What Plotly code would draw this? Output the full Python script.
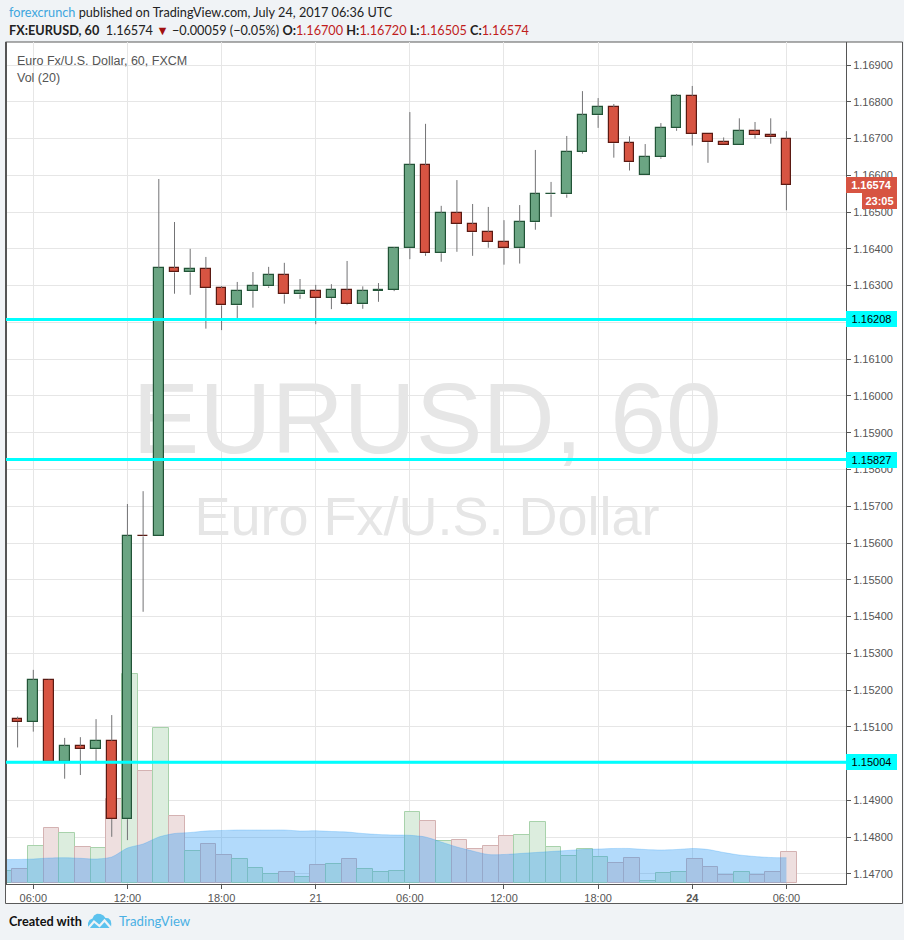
import plotly.graph_objects as go

# ---------------- data ----------------
times = [
    "2017-07-20 04:00", "2017-07-20 05:00", "2017-07-20 06:00", "2017-07-20 07:00", "2017-07-20 08:00",
    "2017-07-20 09:00", "2017-07-20 10:00", "2017-07-20 11:00", "2017-07-20 12:00", "2017-07-20 13:00",
    "2017-07-20 14:00", "2017-07-20 15:00", "2017-07-20 16:00", "2017-07-20 17:00", "2017-07-20 18:00",
    "2017-07-20 19:00", "2017-07-20 20:00", "2017-07-20 21:00", "2017-07-20 22:00", "2017-07-20 23:00",
    "2017-07-21 00:00", "2017-07-21 01:00", "2017-07-21 02:00", "2017-07-21 03:00", "2017-07-21 04:00",
    "2017-07-21 05:00", "2017-07-21 06:00", "2017-07-21 07:00", "2017-07-21 08:00", "2017-07-21 09:00",
    "2017-07-21 10:00", "2017-07-21 11:00", "2017-07-21 12:00", "2017-07-21 13:00", "2017-07-21 14:00",
    "2017-07-21 15:00", "2017-07-21 16:00", "2017-07-21 17:00", "2017-07-21 18:00", "2017-07-21 19:00",
    "2017-07-21 20:00", "2017-07-23 21:00", "2017-07-23 22:00", "2017-07-23 23:00", "2017-07-24 00:00",
    "2017-07-24 01:00", "2017-07-24 02:00", "2017-07-24 03:00", "2017-07-24 04:00", "2017-07-24 05:00",
    "2017-07-24 06:00",
]
opens = [1.15098, 1.15121, 1.15113, 1.15227, 1.15005, 1.15047, 1.15039, 1.15062, 1.14849, 1.15620,
         1.15618, 1.16347, 1.16336, 1.16344, 1.16293, 1.16246, 1.16285, 1.16298, 1.16328, 1.16276,
         1.16285, 1.16266, 1.16287, 1.16249, 1.16285, 1.16288, 1.16401, 1.16627, 1.16388, 1.16497,
         1.16467, 1.16445, 1.16418, 1.16401, 1.16472, 1.16548, 1.16548, 1.16663, 1.16763, 1.16785,
         1.16687, 1.16600, 1.16649, 1.16728, 1.16815, 1.16712, 1.16690, 1.16682, 1.16720, 1.16709,
         1.16700]
highs = [1.15135, 1.15128, 1.15255, 1.15229, 1.15070, 1.15072, 1.15121, 1.15132, 1.15706, 1.15741,
         1.16590, 1.16473, 1.16400, 1.16378, 1.16299, 1.16310, 1.16337, 1.16351, 1.16362, 1.16318,
         1.16302, 1.16304, 1.16367, 1.16298, 1.16307, 1.16405, 1.16772, 1.16740, 1.16517, 1.16587,
         1.16522, 1.16514, 1.16478, 1.16519, 1.16669, 1.16582, 1.16707, 1.16829, 1.16810, 1.16794,
         1.16706, 1.16685, 1.16742, 1.16821, 1.16843, 1.16712, 1.16703, 1.16755, 1.16745, 1.16755,
         1.16720]
lows = [1.15080, 1.15044, 1.15087, 1.15002, 1.14959, 1.14969, 1.15007, 1.14801, 1.14792, 1.15413,
        1.15618, 1.16278, 1.16275, 1.16183, 1.16179, 1.16212, 1.16240, 1.16294, 1.16251, 1.16264,
        1.16195, 1.16236, 1.16247, 1.16237, 1.16256, 1.16285, 1.16372, 1.16381, 1.16365, 1.16392,
        1.16381, 1.16403, 1.16357, 1.16360, 1.16452, 1.16487, 1.16539, 1.16659, 1.16729, 1.16648,
        1.16613, 1.16600, 1.16645, 1.16721, 1.16681, 1.16634, 1.16682, 1.16682, 1.16700, 1.16686,
        1.16505]
closes = [1.15121, 1.15113, 1.15227, 1.15005, 1.15047, 1.15039, 1.15062, 1.14849, 1.15618, 1.15618,
          1.16347, 1.16336, 1.16344, 1.16293, 1.16246, 1.16285, 1.16298, 1.16328, 1.16276, 1.16285,
          1.16266, 1.16287, 1.16249, 1.16285, 1.16288, 1.16401, 1.16627, 1.16388, 1.16497, 1.16467,
          1.16445, 1.16418, 1.16401, 1.16472, 1.16548, 1.16550, 1.16663, 1.16763, 1.16785, 1.16687,
          1.16635, 1.16649, 1.16728, 1.16815, 1.16712, 1.16690, 1.16682, 1.16720, 1.16709, 1.16703,
          1.16574]
volumes = [585, 670, 1835, 2720, 2470, 1770, 1720, 4185, 10435, 5585,
           7720, 3335, 1585, 1935, 1385, 1170, 720, 435, 535, 285,
           870, 920, 1170, 670, 520, 570, 3520, 3070, 2070, 2120,
           1670, 1820, 2320, 2370, 3020, 1770, 1320, 1670, 1270, 970,
           1220, 70, 470, 520, 1170, 770, 385, 520, 385, 520,
           1520]
vol_ma20 = [1160, 1160, 1185, 1235, 1250, 1220, 1185, 1285, 1735, 1935,
            2285, 2460, 2510, 2585, 2610, 2635, 2635, 2635, 2635, 2585,
            2600, 2560, 2535, 2460, 2410, 2385, 2370, 2285, 2035, 1785,
            1585, 1410, 1410, 1460, 1510, 1560, 1610, 1660, 1685, 1710,
            1710, 1660, 1635, 1660, 1710, 1660, 1510, 1385, 1310, 1260,
            1250]
levels = [1.16208, 1.15827, 1.15004]
level_labels = ["1.16208", "1.15827", "1.15004"]
last_price_label = "1.16574"
countdown_label = "23:05"
tick_times = ["2017-07-20 06:00", "2017-07-20 12:00", "2017-07-20 18:00", "2017-07-21 00:00",
              "2017-07-21 06:00", "2017-07-21 12:00", "2017-07-21 18:00", "2017-07-24 00:00",
              "2017-07-24 06:00"]
tick_labels = ["06:00", "12:00", "18:00", "21", "06:00", "12:00", "18:00", "<b>24</b>", "06:00"]

# ---------------- styling ----------------
UP_FILL, UP_LINE = "#6ba583", "#225437"
DN_FILL, DN_LINE = "#d75442", "#5b1a13"
WICK = "#737375"
VOL_UP_FILL, VOL_UP_LINE = "#dcedde", "#a8d2ab"
VOL_DN_FILL, VOL_DN_LINE = "#eedfdf", "#d4b2b2"
MA_FILL = "rgba(33,150,243,0.35)"
GRID = "#e6e6e6"
AXIS = "#555555"
BG = "#f0f3f6"
NARROW = "Lato, Liberation Sans, Arial, sans-serif"
SANS = "Liberation Sans, Arial, sans-serif"
HDR = 12.7

W, H = 904, 940
PL, PT, PW, PH = 6, 42, 840, 842
VOL_RANGE = [-65, 42035]


def px(X):
    return (X - PL) / PW


def py(Y):
    return (PT + PH - Y) / PH


def vol_at(Y):
    # pixel row -> volume-axis value
    return VOL_RANGE[0] + (PT + PH - Y) / PH * (VOL_RANGE[1] - VOL_RANGE[0])


xpos = list(range(len(times)))
is_up = [c >= o for o, c in zip(opens, closes)]

fig = go.Figure()

# volume bars (lower subplot layer, yaxis y)
fig.add_trace(go.Bar(
    x=xpos, y=volumes, width=1.0, offset=-0.34,
    marker=dict(color=[VOL_UP_FILL if u else VOL_DN_FILL for u in is_up],
                line=dict(color=[VOL_UP_LINE if u else VOL_DN_LINE for u in is_up], width=1)),
    yaxis="y", hoverinfo="skip"))
# volume moving average area
fig.add_trace(go.Scatter(
    x=xpos, y=vol_ma20, mode="lines", fill="tozeroy", fillcolor=MA_FILL,
    line=dict(color="rgba(33,150,243,0.25)", width=1, shape="spline", smoothing=0.8),
    yaxis="y", hoverinfo="skip"))

# watermark text (lower subplot so candles are drawn above it)
mid_x = (427 - 1.91) / 15.69
fig.add_trace(go.Scatter(
    x=[mid_x, mid_x], y=[vol_at(428), vol_at(521)],
    mode="text", text=["EURUSD, 60", "Euro Fx/U.S. Dollar"],
    textfont=dict(family=SANS, size=[100, 54], color="#e6e6e6"),
    textposition="middle center", yaxis="y", hoverinfo="skip", cliponaxis=False))

# bodies
fig.add_trace(go.Bar(
    x=xpos, y=[abs(c - o) for o, c in zip(opens, closes)],
    base=[min(o, c) for o, c in zip(opens, closes)],
    width=0.62, offset=-0.31,
    marker=dict(color=[UP_FILL if u else DN_FILL for u in is_up],
                line=dict(color=[UP_LINE if u else DN_LINE for u in is_up], width=1.2)),
    yaxis="y2", hoverinfo="skip"))

# wicks (upper and lower shadows, not crossing the bodies)
wx, wy = [], []
for i, (o, hi, lo, c) in enumerate(zip(opens, highs, lows, closes)):
    top, bot = max(o, c), min(o, c)
    if hi > top:
        wx += [i, i, None]
        wy += [top, hi, None]
    if lo < bot:
        wx += [i, i, None]
        wy += [lo, bot, None]
fig.add_trace(go.Scatter(x=wx, y=wy, mode="lines", line=dict(color=WICK, width=1),
                         yaxis="y2", hoverinfo="skip"))

tickvals = [times.index(t) for t in tick_times]

shapes = [
    dict(type="rect", xref="paper", yref="paper", x0=px(5.5), x1=px(902.5), y0=py(903.5), y1=py(42),
         fillcolor="white", line=dict(color="#5a5a5a", width=1), layer="below"),
    dict(type="line", xref="paper", yref="paper", x0=px(6), x1=px(6), y0=py(42), y1=py(884),
         line=dict(color="#555555", width=2)),
]
for lv in levels:
    shapes.append(dict(type="line", xref="paper", yref="y2", x0=0, x1=1, y0=lv, y1=lv,
                       line=dict(color="#00ffff", width=3)))

annotations = []
for lv, lab in zip(levels, level_labels):
    annotations.append(dict(xref="paper", yref="y2", x=1, y=lv, xanchor="left", yanchor="middle",
                            text=lab, showarrow=False, bgcolor="#00ffff", width=47, height=12,
                            borderpad=2, borderwidth=0, align="center",
                            font=dict(family=SANS, size=11, color="#000000")))
annotations.append(dict(xref="paper", yref="y2", x=1, y=closes[-1], xanchor="left", yanchor="middle",
                        text="<b>%s</b>" % last_price_label, showarrow=False, bgcolor=DN_FILL,
                        width=47, height=12, borderpad=2, borderwidth=0, align="center",
                        font=dict(family=SANS, size=11, color="white")))
annotations.append(dict(xref="paper", yref="y2", x=px(897), y=closes[-1], xanchor="right",
                        yanchor="middle", yshift=-16.5,
                        text="<b>%s</b>" % countdown_label, showarrow=False, bgcolor=DN_FILL,
                        width=31, height=12, borderpad=2, borderwidth=0, align="center",
                        font=dict(family=SANS, size=11, color="white")))

# header
annotations.append(dict(xref="paper", yref="paper", x=px(7), y=py(12), xanchor="left", yanchor="middle",
                        showarrow=False, align="left",
                        text='<span style="color:#3ea6de">forexcrunch</span> published on TradingView.com, '
                             'July 24, 2017 06:36 UTC',
                        font=dict(family=NARROW, size=HDR, color="#222222")))
RED = "#c01d1d"
line2 = ('<b>FX:EURUSD, 60</b>\u00a0\u00a01.16574 <span style="color:#a11010">\u25bc</span> '
         '\u22120.00059 (\u22120.05%) '
         '<b>O:</b><span style="color:{r}">1.16700</span> '
         '<b>H:</b><span style="color:{r}">1.16720</span> '
         '<b>L:</b><span style="color:{r}">1.16505</span> '
         '<b>C:</b><span style="color:{r}">1.16574</span>').format(r=RED)
annotations.append(dict(xref="paper", yref="paper", x=px(7), y=py(30), xanchor="left", yanchor="middle",
                        showarrow=False, align="left", text=line2,
                        font=dict(family=NARROW, size=HDR, color="#222222")))
# legend texts inside pane
annotations.append(dict(xref="paper", yref="paper", x=px(15), y=py(61), xanchor="left", yanchor="middle",
                        showarrow=False, text="Euro Fx/U.S. Dollar, 60, FXCM",
                        font=dict(family=SANS, size=12.5, color="#555555")))
annotations.append(dict(xref="paper", yref="paper", x=px(15), y=py(78), xanchor="left", yanchor="middle",
                        showarrow=False, text="Vol (20)",
                        font=dict(family=SANS, size=12.5, color="#555555")))
# footer
annotations.append(dict(xref="paper", yref="paper", x=px(7), y=py(921), xanchor="left", yanchor="middle",
                        showarrow=False, text="<b>Created with</b>",
                        font=dict(family=NARROW, size=HDR, color="#111111")))
annotations.append(dict(xref="paper", yref="paper", x=px(117), y=py(921), xanchor="left", yanchor="middle",
                        showarrow=False, text="TradingView",
                        font=dict(family=NARROW, size=HDR + 0.5, color="#4ab0e4")))


def path(points, close=True):
    s = "M " + " L ".join("%.5f,%.5f" % (px(X), py(Y)) for X, Y in points)
    return s + (" Z" if close else "")


cloud = [(88, 928), (88, 923), (89.5, 920), (92.5, 918.5), (94, 915.5), (97, 913.8), (100.5, 914),
         (103.5, 915.5), (105.5, 918), (108.5, 918.3), (110.7, 920.5), (111.3, 923.5), (111, 928)]
shapes.append(dict(type="path", xref="paper", yref="paper", path=path(cloud),
                   fillcolor="#5cc2ee", line=dict(width=0)))
shapes.append(dict(type="path", xref="paper", yref="paper",
                   path=path([(88, 928.5), (94, 921.5), (99.5, 926), (104.5, 920.5), (111.5, 928.5)], close=False),
                   line=dict(color=BG, width=2.2)))

fig.update_layout(
    width=W, height=H,
    margin=dict(l=PL, r=W - PL - PW, t=PT, b=H - PT - PH),
    paper_bgcolor=BG, plot_bgcolor="rgba(0,0,0,0)",
    showlegend=False, barmode="overlay", bargap=0,
    xaxis=dict(range=[(PL - 1.91) / 15.69, (PL + PW - 1.91) / 15.69],
               tickvals=tickvals, ticktext=tick_labels,
               showgrid=True, gridcolor=GRID, gridwidth=1, zeroline=False,
               ticks="outside", ticklen=4, tickcolor=AXIS,
               showline=True, linecolor=AXIS, linewidth=1,
               tickfont=dict(family=SANS, size=11, color="#555555"), fixedrange=True),
    yaxis=dict(range=VOL_RANGE, visible=False, fixedrange=True),
    yaxis2=dict(overlaying="y", side="right", anchor="x",
                range=[1.169 - (PT + PH - 65) / 36770, 1.169 + (65 - PT) / 36770],
                tick0=1.147, dtick=0.001, tickformat=".5f",
                showgrid=True, gridcolor=GRID, gridwidth=1, zeroline=False,
                ticks="outside", ticklen=4, tickcolor=AXIS,
                showline=True, linecolor=AXIS, linewidth=1,
                tickfont=dict(family=SANS, size=11, color="#555555"), fixedrange=True),
    shapes=shapes, annotations=annotations,
)

fig.write_html("out.html", config={"displayModeBar": False},
               post_script="document.body.style.margin='0';")
